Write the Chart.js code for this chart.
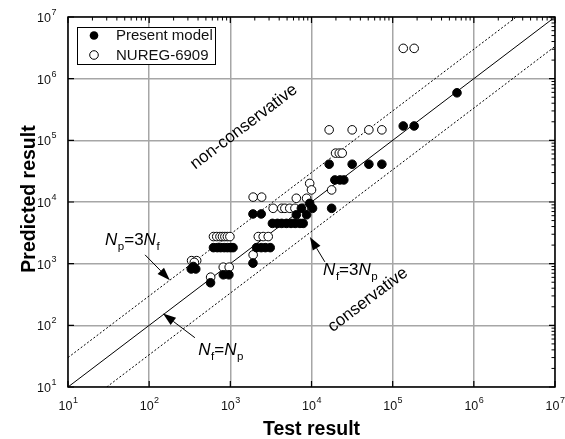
<!DOCTYPE html>
<html>
<head>
<title>Predicted vs test result</title>
<script src="https://cdn.jsdelivr.net/npm/chart.js"></script>
<style>
  body { margin: 0; background: #fff; }
  #wrap { width: 565px; height: 439px; }
</style>
</head>
<body>
<div id="wrap"><canvas id="chart" width="565" height="439"></canvas></div>
<script>
const decades = [1e1, 1e2, 1e3, 1e4, 1e5, 1e6, 1e7];
const tickExps = ['1', '2', '3', '4', '5', '6', '7'];

const presentX = [330, 375, 350, 570, 820, 960, 620, 690, 760, 840, 920, 1000, 1080, 1900,
  2100, 2400, 2700, 3100, 1900, 2400, 3300, 3800, 4300, 4900, 5600, 6300, 7200, 7900,
  6500, 8700, 9500, 7500, 10300, 17700, 19400, 22400, 25000, 16500, 31700, 50900, 73600,
  135000, 184000, 620000];
const presentY = [820, 820, 900, 490, 660, 660, 1820, 1820, 1820, 1820, 1820, 1820, 1820, 1020,
  1820, 1820, 1820, 1820, 6400, 6400, 4500, 4500, 4500, 4500, 4500, 4500, 4500, 4500,
  6200, 6200, 9500, 7900, 7900, 7900, 22800, 22800, 22800, 41000, 41000, 41000, 41000,
  171000, 171000, 590000];

const nuregX = [333, 385, 360, 572, 818, 968, 620, 680, 745, 800, 857, 920, 988, 1910,
  2210, 2540, 2930, 1910, 2430, 3370, 4300, 4700, 5400, 6250, 7900, 6500, 8700,
  9500, 10000, 17700, 19800, 22000, 23900, 16500, 31700, 50900, 73600, 135000, 184000];
const nuregY = [1120, 1120, 1050, 604, 877, 877, 2750, 2750, 2750, 2750, 2750, 2750, 2750, 1390,
  2750, 2750, 2750, 12000, 12000, 7900, 7900, 7900, 7900, 7900, 7900, 11500, 11500,
  20000, 15700, 15700, 62000, 62000, 62000, 148000, 148000, 148000, 148000, 3100000, 3100000];

// reference lines: Nf = Np, Np = 3Nf, Nf = 3Np
const equalLine = [[10, 10], [1e7, 1e7]];
const upperLine = [[10, 30], [1e7 / 3, 1e7]];
const lowerLine = [[30, 10], [1e7, 1e7 / 3]];

const FONT = '"Liberation Sans", Arial, Helvetica, sans-serif';

function pts(xs, ys) { return xs.map((x, i) => ({ x: x, y: ys[i] })); }
function linePts(l) { return l.map(p => ({ x: p[0], y: p[1] })); }

function drawRich(ctx, x, y, parts, size) {
  // parts: [text, style] style: 'i' italic, 's' subscript, '' normal
  parts.forEach(p => {
    const sub = p[1] === 's';
    const fs = sub ? size * 0.68 : size;
    ctx.font = (p[1] === 'i' ? 'italic ' : '') + fs + 'px ' + FONT;
    ctx.fillText(p[0], x, sub ? y + size * 0.28 : y);
    x += ctx.measureText(p[0]).width + (p[1] === 'i' ? 0.5 : 0);
  });
}

function arrow(ctx, x1, y1, x2, y2) {
  const a = Math.atan2(y2 - y1, x2 - x1);
  const hl = 13, hw = 4.5;
  const bx = x2 - hl * Math.cos(a), by = y2 - hl * Math.sin(a);
  ctx.beginPath();
  ctx.moveTo(x1, y1);
  ctx.lineTo(bx, by);
  ctx.lineWidth = 1;
  ctx.stroke();
  ctx.beginPath();
  ctx.moveTo(x2, y2);
  ctx.lineTo(bx + hw * Math.sin(a), by - hw * Math.cos(a));
  ctx.lineTo(bx - hw * Math.sin(a), by + hw * Math.cos(a));
  ctx.closePath();
  ctx.fill();
}

const overlay = {
  id: 'overlay',
  afterDraw(chart) {
    const ctx = chart.ctx;
    const xs = chart.scales.x, ys = chart.scales.y;
    const a = chart.chartArea;
    const X = v => xs.getPixelForValue(v), Y = v => ys.getPixelForValue(v);
    ctx.save();
    ctx.strokeStyle = '#000';
    ctx.fillStyle = '#000';

    // frame
    ctx.lineWidth = 1.5;
    ctx.strokeRect(a.left, a.top, a.right - a.left, a.bottom - a.top);

    // major ticks (inside, all sides)
    ctx.lineWidth = 1.2;
    ctx.beginPath();
    decades.forEach(d => {
      const px = X(d), py = Y(d);
      ctx.moveTo(px, a.bottom); ctx.lineTo(px, a.bottom - 6);
      ctx.moveTo(px, a.top); ctx.lineTo(px, a.top + 6);
      ctx.moveTo(a.left, py); ctx.lineTo(a.left + 6, py);
      ctx.moveTo(a.right, py); ctx.lineTo(a.right - 6, py);
    });
    ctx.stroke();
    // minor ticks on top and right
    ctx.lineWidth = 1;
    ctx.beginPath();
    decades.slice(0, -1).forEach(d => {
      for (let k = 2; k <= 9; k++) {
        const px = X(d * k), py = Y(d * k);
        ctx.moveTo(px, a.top); ctx.lineTo(px, a.top + 3.5);
        ctx.moveTo(a.right, py); ctx.lineTo(a.right - 3.5, py);
      }
    });
    ctx.stroke();

    // tick labels
    ctx.fillStyle = '#111';
    ctx.textBaseline = 'alphabetic';
    ctx.textAlign = 'left';
    decades.forEach((d, i) => {
      ctx.font = '12.5px ' + FONT;
      const w1 = ctx.measureText('10').width;
      ctx.font = '9px ' + FONT;
      const w2 = ctx.measureText(tickExps[i]).width;
      // x axis
      let x0 = X(d) - (w1 + w2) / 2;
      ctx.font = '12.5px ' + FONT;
      ctx.fillText('10', x0, a.bottom + 23);
      ctx.font = '9px ' + FONT;
      ctx.fillText(tickExps[i], x0 + w1 + 0.5, a.bottom + 16);
      // y axis
      x0 = a.left - 12 - w1 - w2;
      ctx.font = '12.5px ' + FONT;
      ctx.fillText('10', x0, Y(d) + 5);
      ctx.font = '9px ' + FONT;
      ctx.fillText(tickExps[i], x0 + w1 + 0.5, Y(d) - 2);
    });

    // axis titles
    ctx.fillStyle = '#000';
    ctx.font = 'bold 19.5px ' + FONT;
    ctx.textAlign = 'center';
    ctx.fillText('Test result', (a.left + a.right) / 2, a.bottom + 48);
    ctx.save();
    ctx.translate(35, (a.top + a.bottom) / 2 - 3);
    ctx.rotate(-Math.PI / 2);
    ctx.fillText('Predicted result', 0, 0);
    ctx.restore();

    // region labels along the diagonal
    const ang = Math.atan2(Y(1e7) - Y(10), X(1e7) - X(10));
    ctx.font = '17px ' + FONT;
    ctx.textBaseline = 'middle';
    [['non-conservative', 1470, 1.65e5], ['conservative', 4.95e4, 259]].forEach(t => {
      ctx.save();
      ctx.translate(X(t[1]), Y(t[2]));
      ctx.rotate(ang);
      ctx.fillText(t[0], 0, 0);
      ctx.restore();
    });

    // line labels with arrows
    ctx.textAlign = 'left';
    ctx.textBaseline = 'alphabetic';
    drawRich(ctx, X(28.6), Y(2020), [['N', 'i'], ['p', 's'], ['=3', ''], ['N', 'i'], ['f', 's']], 17);
    arrow(ctx, X(89), Y(1390), X(180), Y(540));
    drawRich(ctx, X(403), Y(33.3), [['N', 'i'], ['f', 's'], ['=', ''], ['N', 'i'], ['p', 's']], 17);
    arrow(ctx, X(366), Y(63), X(148), Y(155));
    drawRich(ctx, X(13900), Y(658), [['N', 'i'], ['f', 's'], ['=3', ''], ['N', 'i'], ['p', 's']], 17);
    arrow(ctx, X(14600), Y(1070), X(9550), Y(2700));

    // legend
    const lx = a.left + 9, ly = a.top + 10;
    ctx.fillStyle = '#fff';
    ctx.fillRect(lx, ly, 138, 37);
    ctx.lineWidth = 1;
    ctx.strokeStyle = '#000';
    ctx.strokeRect(lx + 0.5, ly + 0.5, 138, 37);
    ctx.beginPath();
    ctx.arc(lx + 17, ly + 8.5, 4.3, 0, Math.PI * 2);
    ctx.fillStyle = '#000';
    ctx.fill();
    ctx.beginPath();
    ctx.arc(lx + 17, ly + 28, 4.3, 0, Math.PI * 2);
    ctx.fillStyle = '#fff';
    ctx.fill();
    ctx.stroke();
    ctx.fillStyle = '#111';
    ctx.font = '15px ' + FONT;
    ctx.textBaseline = 'middle';
    ctx.fillText('Present model', lx + 39, ly + 9);
    ctx.fillText('NUREG-6909', lx + 39, ly + 28.5);
    ctx.restore();
  }
};

const logAxis = (extra) => Object.assign({
  type: 'logarithmic',
  min: 10,
  max: 1e7,
  ticks: { display: false },
  grid: { color: '#a6a6a6', lineWidth: 1.5, drawTicks: false },
  border: { display: false },
  afterBuildTicks: s => { s.ticks = decades.map(v => ({ value: v })); }
}, extra);

new Chart(document.getElementById('chart'), {
  type: 'scatter',
  data: {
    datasets: [
      {
        label: 'Present model',
        data: pts(presentX, presentY),
        pointRadius: 4.3,
        pointBackgroundColor: '#000',
        pointBorderColor: '#000',
        pointBorderWidth: 1
      },
      {
        label: 'NUREG-6909',
        data: pts(nuregX, nuregY),
        pointRadius: 4.3,
        pointBackgroundColor: '#fff',
        pointBorderColor: '#000',
        pointBorderWidth: 1
      },
      {
        label: 'Nf=Np',
        data: linePts(equalLine),
        showLine: true,
        borderColor: '#000',
        borderWidth: 1,
        pointRadius: 0
      },
      {
        label: 'Np=3Nf',
        data: linePts(upperLine),
        showLine: true,
        borderColor: '#000',
        borderWidth: 1,
        borderDash: [2, 2],
        pointRadius: 0
      },
      {
        label: 'Nf=3Np',
        data: linePts(lowerLine),
        showLine: true,
        borderColor: '#000',
        borderWidth: 1,
        borderDash: [2, 2],
        pointRadius: 0
      }
    ]
  },
  options: {
    responsive: false,
    animation: false,
    layout: { padding: { top: 17, right: 10, left: 0, bottom: 0 } },
    plugins: { legend: { display: false }, tooltip: { enabled: false } },
    scales: {
      x: logAxis({ afterFit: s => { s.height = 52; } }),
      y: logAxis({ afterFit: s => { s.width = 68; } })
    }
  },
  plugins: [overlay]
});
</script>
</body>
</html>
